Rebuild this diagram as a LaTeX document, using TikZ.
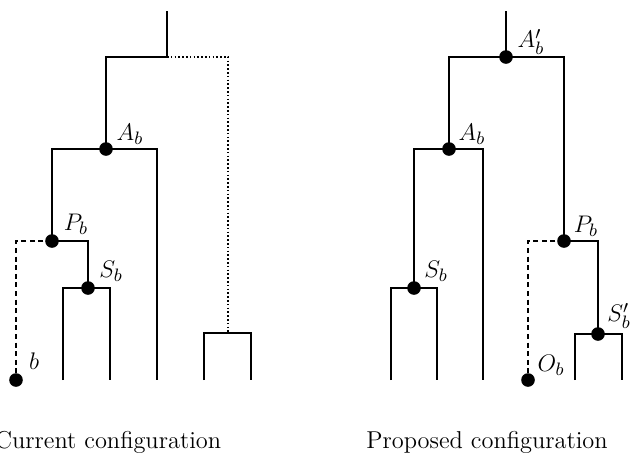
\documentclass[tikz,border=0pt]{standalone}
\begin{document}
\begin{tikzpicture}[x=0.5pt,y=-0.5pt,
  tree/.style={line width=1.15pt},
  dotline/.style={line width=0.95pt,dash pattern=on 0.8pt off 1.1pt},
  dashline/.style={line width=1.1pt,dash pattern=on 2.5pt off 1.8pt},
  vtx/.style={circle,fill=black,inner sep=0pt,minimum size=6.8pt},
  lab/.style={font=\fontsize{12.4}{14}\selectfont,inner sep=0pt},
  captext/.style={font=\fontsize{12.2}{14}\selectfont,inner sep=0pt}]
\useasboundingbox (0,0) rectangle (631,456);
% ---------- left tree ----------
\coordinate (Ltop) at (167,11);
\coordinate (Lj) at (167,57);
\node[vtx] (LA) at (106,149) {};
\node[vtx] (LP) at (52,241) {};
\node[vtx] (LS) at (88,288) {};
\node[vtx] (Lb) at (16,380) {};
\coordinate (L1) at (63,380);
\coordinate (L2) at (110,380);
\coordinate (L3) at (157,380);
\coordinate (Lbox) at (228,333);
\coordinate (L4) at (204,380);
\coordinate (L5) at (251,380);
\draw[tree] (Ltop) -- (Lj) -| (LA.center);
\draw[dotline] (Lj) -| (Lbox);
\draw[tree] (LP.center) |- (LA.center) -| (L3);
\draw[tree] (LP.center) -| (LS.center);
\draw[tree] (L1) |- (LS.center) -| (L2);
\draw[dashline] (LP.center) -| (Lb.center);
\draw[tree] (L4) |- (Lbox) -| (L5);
\node[lab] (tLA) at (130,134) {$A_b$};
\node[lab] (tLP) at (76,224) {$P_b$};
\node[lab] (tLS) at (111,271) {$S_b$};
\node[lab] (tLb) at (34,361) {$b$};
\node[captext] (capL) at (108,442) {Current configuration};
% ---------- right tree ----------
\coordinate (Rtop) at (506,11);
\node[vtx] (RA2) at (506,57) {};
\node[vtx] (RA) at (449,149) {};
\node[vtx] (RS) at (414,288) {};
\node[vtx] (RP) at (564,241) {};
\node[vtx] (RS2) at (598,334) {};
\node[vtx] (RO) at (528,380) {};
\coordinate (R1) at (391,380);
\coordinate (R2) at (437,380);
\coordinate (R3) at (483,380);
\coordinate (R4) at (575,380);
\coordinate (R5) at (622,380);
\draw[tree] (Rtop) -- (RA2.center);
\draw[tree] (RA.center) |- (RA2.center) -| (RP.center);
\draw[tree] (RS.center) |- (RA.center) -| (R3);
\draw[tree] (R1) |- (RS.center) -| (R2);
\draw[tree] (RP.center) -| (RS2.center);
\draw[tree] (R4) |- (RS2.center) -| (R5);
\draw[dashline] (RP.center) -| (RO.center);
\node[lab] (tRA2) at (531,42) {$A'_b$};
\node[lab] (tRA) at (472,134) {$A_b$};
\node[lab] (tRP) at (586,226) {$P_b$};
\node[lab] (tRS) at (436,271) {$S_b$};
\node[lab] (tRS2) at (619,316) {$S'_b$};
\node[lab] (tRO) at (551,365) {$O_b$};
\node[captext] (capR) at (487,442) {Proposed configuration};
\end{tikzpicture}
\end{document}
